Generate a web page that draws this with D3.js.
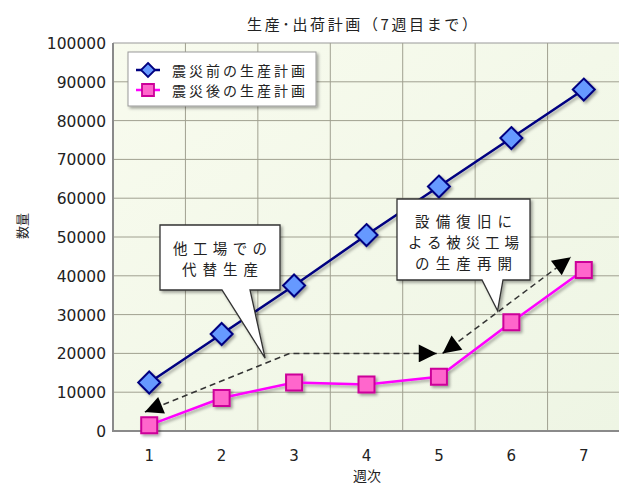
<!DOCTYPE html>
<html><head><meta charset="utf-8">
<script src="https://cdn.jsdelivr.net/npm/d3@7/dist/d3.min.js"></script>
<style>
body{margin:0;background:#fff;}
svg{display:block;}
text{font-family:"Noto Sans CJK JP","Noto Sans",sans-serif;fill:#222;}
</style></head><body>
<svg id="c" width="619" height="485"></svg>
<script>
const weeks = [1,2,3,4,5,6,7];
const before = [12500,25000,37500,50500,63000,75500,88000];
const after = [1500,8500,12500,12000,14000,28000,41500];
const yTicks = [0,10000,20000,30000,40000,50000,60000,70000,80000,90000,100000];
const seriesNames = ["震災前の生産計画","震災後の生産計画"];
const title = "生産･出荷計画（7週目まで）";
const xTitle = "週次", yTitle = "数量";
const note1 = ["他工場での","代替生産"];
const note2 = ["設備復旧に","よる被災工場","の生産再開"];
// annotation arrows in data space [week position, value]
const arrow1 = [[0.94,4900],[2.94,20000],[4.97,20000]];
const arrow2 = [[5.05,20000],[6.82,44800]];
const tip1 = [2.6,18800], tip2 = [5.81,31000];

const svg = d3.select("#c");
const L=113, R=620, T=43, B=431;
const x = d3.scaleBand().domain(weeks).range([L,R]);
const bw = x.bandwidth();
const xc = v => L + (v-0.5)*bw;
const y = d3.scaleLinear().domain([0,100000]).range([B,T]);

const defs = svg.append("defs");
const f = defs.append("filter").attr("id","sh").attr("x","-30%").attr("y","-30%").attr("width","160%").attr("height","160%");
f.append("feDropShadow").attr("dx",2).attr("dy",2).attr("stdDeviation",1.5).attr("flood-color","#000").attr("flood-opacity",0.35);
const g1 = defs.append("linearGradient").attr("id","bg").attr("x1",0).attr("y1",0).attr("x2",1).attr("y2",1);
g1.append("stop").attr("offset","0%").attr("stop-color","#f8fbee");
g1.append("stop").attr("offset","100%").attr("stop-color","#eef5e4");
defs.append("marker").attr("id","ah").attr("viewBox","0 0 10 10").attr("refX",10).attr("refY",5)
  .attr("markerWidth",24).attr("markerHeight",18).attr("markerUnits","userSpaceOnUse").attr("orient","auto-start-reverse")
  .append("path").attr("d","M0,0L10,5L0,10Z").attr("fill","#000");

// plot background
svg.append("rect").attr("x",L).attr("y",T).attr("width",R-L).attr("height",B-T).attr("fill","url(#bg)");
// grid
svg.append("g").selectAll("line").data(yTicks.slice(1)).join("line")
  .attr("x1",L).attr("x2",R).attr("y1",d=>y(d)).attr("y2",d=>y(d))
  .attr("stroke",d=>d===100000?"#999":"#a0a090").attr("stroke-width",1);
svg.append("g").selectAll("line").data(weeks.slice(1)).join("line")
  .attr("x1",d=>x(d)).attr("x2",d=>x(d)).attr("y1",T).attr("y2",B)
  .attr("stroke","#a0a090").attr("stroke-width",1);
// axes lines
svg.append("line").attr("x1",L).attr("x2",L).attr("y1",T).attr("y2",B+1).attr("stroke","#8a8a8a").attr("stroke-width",2);
svg.append("line").attr("x1",L-1).attr("x2",R).attr("y1",B).attr("y2",B).attr("stroke","#8a8a8a").attr("stroke-width",2);

// axis labels
svg.append("g").selectAll("text").data(yTicks).join("text")
  .attr("x",L-7).attr("y",d=>y(d)+6).attr("text-anchor","end")
  .style("font-family","'DejaVu Sans',sans-serif").style("font-size","15.5px").text(d=>d);
svg.append("g").selectAll("text").data(weeks).join("text")
  .attr("x",d=>x(d)+bw/2).attr("y",461).attr("text-anchor","middle")
  .style("font-family","'DejaVu Sans',sans-serif").style("font-size","15px").text(d=>d);
svg.append("text").attr("x",367).attr("y",481).attr("text-anchor","middle").style("font-size","14px").text(xTitle);
svg.append("text").attr("transform","translate(27,226) rotate(-90)").attr("text-anchor","middle").style("font-size","13px").attr("fill","#444").text(yTitle);
svg.append("text").attr("x",362).attr("y",30).attr("text-anchor","middle").style("font-size","15px")
  .attr("textLength",230).attr("lengthAdjust","spacing").text(title);

// annotation dashed arrows
const line = d3.line().x(d=>xc(d[0])).y(d=>y(d[1]));
[arrow1,arrow2].forEach(a=>{
  svg.append("path").attr("d",line(a)).attr("fill","none").attr("stroke","#333").attr("stroke-width",1.5)
    .attr("stroke-dasharray","6,4").attr("marker-start","url(#ah)").attr("marker-end","url(#ah)");
});

// series
const ser = [
  {v:before, stroke:"#000080", fill:"#6699ff", mstroke:"#000080", shape:"diamond"},
  {v:after, stroke:"#ff00ff", fill:"#ff66cc", mstroke:"#cc0099", shape:"square"}
];
const sl = d3.line().x((d,i)=>x(weeks[i])+bw/2).y(d=>y(d));
ser.forEach(s=>{
  const g = svg.append("g").attr("filter","url(#sh)");
  g.append("path").attr("d",sl(s.v)).attr("fill","none").attr("stroke",s.stroke).attr("stroke-width",2.5);
  g.selectAll(".m").data(s.v).join("path")
    .attr("transform",(d,i)=>`translate(${x(weeks[i])+bw/2},${y(d)})`)
    .attr("d", s.shape==="diamond" ? "M0,-11L11,0L0,11L-11,0Z" : "M-8,-8H8V8H-8Z")
    .attr("fill",s.fill).attr("stroke",s.mstroke).attr("stroke-width",2);
});

// callouts
function callout(box, p1, p2, tip, lines, lys, tl){
  const [x0,y0,x1,y1]=box;
  const tx=xc(tip[0]), ty=y(tip[1]);
  const d=`M${x0},${y0}H${x1}V${y1}H${p2}L${tx},${ty}L${p1},${y1}H${x0}Z`;
  svg.append("path").attr("d",d).attr("fill","#fff").attr("stroke","#333").attr("stroke-width",1.3).attr("filter","url(#sh)");
  const cx=(x0+x1)/2;
  lines.forEach((t,i)=>{
    svg.append("text").attr("x",cx).attr("y",lys[i]).attr("text-anchor","middle").style("font-size","14.5px")
      .attr("textLength",tl[i]).attr("lengthAdjust","spacing").text(t);
  });
}
callout([160,225,280,290],222,250,tip1,note1,[254,275],[94,76]);
callout([397,199,530,280],482,503,tip2,note2,[227,248,269],[97,111,97]);

// legend
const lg = svg.append("g");
lg.append("rect").attr("x",128).attr("y",52).attr("width",188).attr("height",54).attr("fill","#fff").attr("stroke","#999").attr("filter","url(#sh)");
ser.forEach((s,i)=>{
  const yy=70+i*20;
  lg.append("line").attr("x1",136).attr("x2",160).attr("y1",yy).attr("y2",yy).attr("stroke",s.stroke).attr("stroke-width",2.5);
  lg.append("path").attr("transform",`translate(148,${yy})`)
    .attr("d", s.shape==="diamond" ? "M0,-7L7,0L0,7L-7,0Z" : "M-6,-6H6V6H-6Z")
    .attr("fill",s.fill).attr("stroke",s.mstroke).attr("stroke-width",1.8);
  lg.append("text").attr("x",172).attr("y",yy+5.5).style("font-size","14px")
    .attr("textLength",133).attr("lengthAdjust","spacing").text(seriesNames[i]);
});
</script></body></html>
